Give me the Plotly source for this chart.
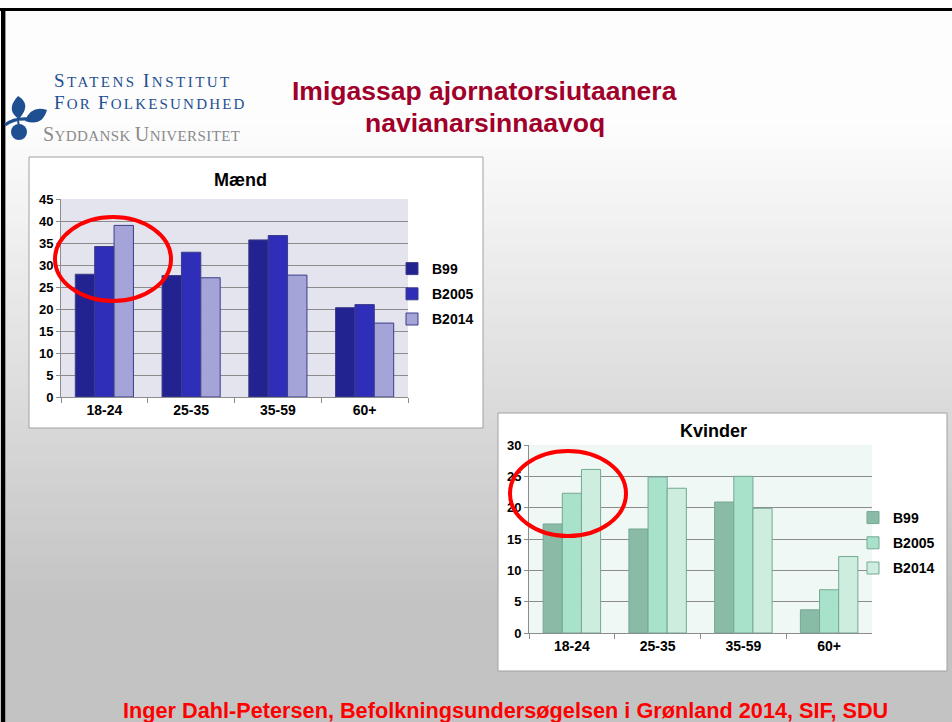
import plotly.graph_objects as go

W, H = 952, 722

categories = ["18-24", "25-35", "35-59", "60+"]
series_names = ["B99", "B2005", "B2014"]

maend_b99 = [27.9, 27.6, 35.7, 20.3]
maend_b2005 = [34.2, 32.9, 36.7, 21.0]
maend_b2014 = [39.0, 27.1, 27.7, 16.8]

kvinder_b99 = [17.4, 16.6, 20.9, 3.7]
kvinder_b2005 = [22.3, 24.9, 25.0, 6.9]
kvinder_b2014 = [26.1, 23.1, 19.9, 12.2]

maend_colors = ["#222290", "#2e2eb8", "#a4a4d8"]
kvinder_colors = ["#8abba6", "#a9e2cb", "#cdeede"]


def X(px):
    return px / W


def Y(py):
    return 1 - py / H


FONT = "Liberation Sans, Arial, sans-serif"
SERIF = "Liberation Serif, DejaVu Serif, serif"

fig = go.Figure()

for name, vals, col in zip(series_names, [maend_b99, maend_b2005, maend_b2014], maend_colors):
    fig.add_trace(go.Bar(x=categories, y=vals, name=name, marker_color=col,
                         marker_line=dict(color="#3c3c88", width=1),
                         xaxis="x", yaxis="y", legend="legend", legendgroup="m" + name,
                         hoverinfo="x+y+name"))

for name, vals, col in zip(series_names, [kvinder_b99, kvinder_b2005, kvinder_b2014], kvinder_colors):
    fig.add_trace(go.Bar(x=categories, y=vals, name=name, marker_color=col,
                         marker_line=dict(color="#74a893", width=1),
                         xaxis="x2", yaxis="y2", legend="legend2", legendgroup="k" + name,
                         hoverinfo="x+y+name"))

shapes = []
# background gradient
y = 11
while y < H:
    if y < 120:
        g = 253
    elif y > 600:
        g = 195
    else:
        g = round(253 - (y - 120) / 480 * 58)
    shapes.append(dict(type="rect", xref="paper", yref="paper", x0=0, x1=1,
                       y0=Y(min(y + 6, H)), y1=Y(y), fillcolor=f"rgb({g},{g},{g})",
                       line=dict(width=0), layer="below"))
    y += 6
# black frame lines
shapes.append(dict(type="rect", xref="paper", yref="paper", x0=0, x1=1, y0=Y(11), y1=Y(8),
                   fillcolor="black", line=dict(width=0), layer="below"))
shapes.append(dict(type="rect", xref="paper", yref="paper", x0=X(1), x1=X(5), y0=0, y1=Y(8),
                   fillcolor="black", line=dict(width=0), layer="below"))
shapes.append(dict(type="rect", xref="paper", yref="paper", x0=X(5), x1=X(6), y0=0, y1=Y(11),
                   fillcolor="#9a9a9a", line=dict(width=0), layer="below"))
# chart boxes
shapes.append(dict(type="rect", xref="paper", yref="paper", x0=X(29), x1=X(483), y0=Y(428), y1=Y(157),
                   fillcolor="white", line=dict(color="#a0a0a0", width=1), layer="below"))
shapes.append(dict(type="rect", xref="paper", yref="paper", x0=X(498), x1=X(947), y0=Y(671), y1=Y(413),
                   fillcolor="white", line=dict(color="#a0a0a0", width=1), layer="below"))
# plot area backgrounds
shapes.append(dict(type="rect", xref="paper", yref="paper", x0=X(61), x1=X(408), y0=Y(397), y1=Y(199),
                   fillcolor="#e4e4ef", line=dict(width=0), layer="below"))
shapes.append(dict(type="rect", xref="paper", yref="paper", x0=X(529), x1=X(872), y0=Y(633), y1=Y(445),
                   fillcolor="#eff8f5", line=dict(width=0), layer="below"))

# logo icon
LOGO = "#1d4f91"


def leaf(base, tip, c1, c2):
    return (f"M{X(base[0])},{Y(base[1])} Q{X(c1[0])},{Y(c1[1])} {X(tip[0])},{Y(tip[1])} "
            f"Q{X(c2[0])},{Y(c2[1])} {X(base[0])},{Y(base[1])} Z")


shapes.append(dict(type="path", xref="paper", yref="paper",
                   path=leaf((19, 119), (18, 96), (5, 110), (32, 104)),
                   fillcolor=LOGO, line=dict(width=0)))
shapes.append(dict(type="path", xref="paper", yref="paper",
                   path=leaf((25, 121), (47, 110), (31, 105), (42, 127)),
                   fillcolor=LOGO, line=dict(width=0)))
shapes.append(dict(type="circle", xref="paper", yref="paper",
                   x0=X(11), x1=X(27), y0=Y(140), y1=Y(124),
                   fillcolor=LOGO, line=dict(width=0)))
shapes.append(dict(type="path", xref="paper", yref="paper",
                   path=f"M{X(5)},{Y(125)} Q{X(14)},{Y(118)} {X(28)},{Y(119)}",
                   line=dict(color=LOGO, width=3)))
shapes.append(dict(type="path", xref="paper", yref="paper",
                   path=f"M{X(18)},{Y(121)} L{X(19)},{Y(126)}",
                   line=dict(color=LOGO, width=2)))

# red ellipses
shapes.append(dict(type="circle", xref="paper", yref="paper", x0=X(55), x1=X(171), y0=Y(301), y1=Y(217),
                   line=dict(color="#ff0000", width=4)))
shapes.append(dict(type="circle", xref="paper", yref="paper", x0=X(510), x1=X(626), y0=Y(536), y1=Y(451),
                   line=dict(color="#ff0000", width=4)))


def smallcaps(text, big, spacing):
    out = []
    for word in text.split(" "):
        out.append(f'<span style="font-size:{big}px">{word[0]}</span>{word[1:]}')
    return f'<span style="letter-spacing:{spacing}px">' + " ".join(out) + "</span>"


def ann(text, px, py, size, color, family=FONT, bold=True, xanchor="center"):
    return dict(text=text, x=X(px), y=Y(py), xref="paper", yref="paper", showarrow=False,
                font=dict(family=family, size=size, color=color, weight="bold" if bold else "normal"),
                xanchor=xanchor, yanchor="middle")


annotations = [
    ann("Imigassap ajornatorsiutaanera", 485, 91, 26.5, "#a0002a"),
    ann("navianarsinnaavoq", 485, 123, 26.5, "#a0002a"),
    ann("Inger Dahl-Petersen, Befolkningsundersøgelsen i Grønland 2014, SIF, SDU", 505, 710, 21.7, "#ff0000"),
    ann("Mænd", 240, 180, 18, "black"),
    ann("Kvinder", 713, 431, 18, "black"),
    ann(smallcaps("STATENS INSTITUT", 19, 2.5), 52, 80, 15, LOGO, family=SERIF, bold=False, xanchor="left"),
    ann(smallcaps("FOR FOLKESUNDHED", 19, 2.2), 52, 103, 15, LOGO, family=SERIF, bold=False, xanchor="left"),
    ann(smallcaps("SYDDANSK UNIVERSITET", 20, 0.4), 41, 134, 15, "#8a8a8a", family=SERIF, bold=False, xanchor="left"),
]

xtickfont = dict(family=FONT, size=14, color="black", weight="bold")
ytickfont = dict(family=FONT, size=13, color="black", weight="bold")
xcommon = dict(type="category", showgrid=False, showline=True, linecolor="#8c8c8c",
               ticks="outside", tickson="boundaries", ticklen=5, tickcolor="#8c8c8c",
               tickfont=xtickfont, fixedrange=True)
ycommon = dict(showgrid=True, gridcolor="#8c8c8c", gridwidth=1, showline=True, linecolor="#8c8c8c",
               ticks="outside", ticklen=4, tickcolor="#8c8c8c", tickfont=ytickfont,
               zeroline=False, dtick=5, fixedrange=True)

legfont = dict(family=FONT, size=14, color="black", weight="bold")

fig.update_layout(
    width=W, height=H, autosize=False,
    margin=dict(l=0, r=0, t=0, b=0, autoexpand=False),
    paper_bgcolor="white", plot_bgcolor="rgba(0,0,0,0)",
    barmode="group", bargap=0.33, bargroupgap=0,
    xaxis=dict(domain=[X(61), X(408)], anchor="y", **xcommon),
    yaxis=dict(domain=[Y(397), Y(199)], anchor="x", range=[0, 45], **ycommon),
    xaxis2=dict(domain=[X(529), X(872)], anchor="y2", **xcommon),
    yaxis2=dict(domain=[Y(633), Y(445)], anchor="x2", range=[0, 30], **ycommon),
    legend=dict(x=X(392), y=Y(253), xanchor="left", yanchor="top", bgcolor="rgba(0,0,0,0)",
                font=legfont, tracegroupgap=4, itemwidth=30),
    legend2=dict(x=X(853), y=Y(502), xanchor="left", yanchor="top", bgcolor="rgba(0,0,0,0)",
                 font=legfont, tracegroupgap=4, itemwidth=30),
    shapes=shapes,
    annotations=annotations,
    showlegend=True,
)

fig.write_html("out.html", config={"displayModeBar": False},
               post_script="document.body.style.margin='0';document.body.style.overflow='hidden';")
